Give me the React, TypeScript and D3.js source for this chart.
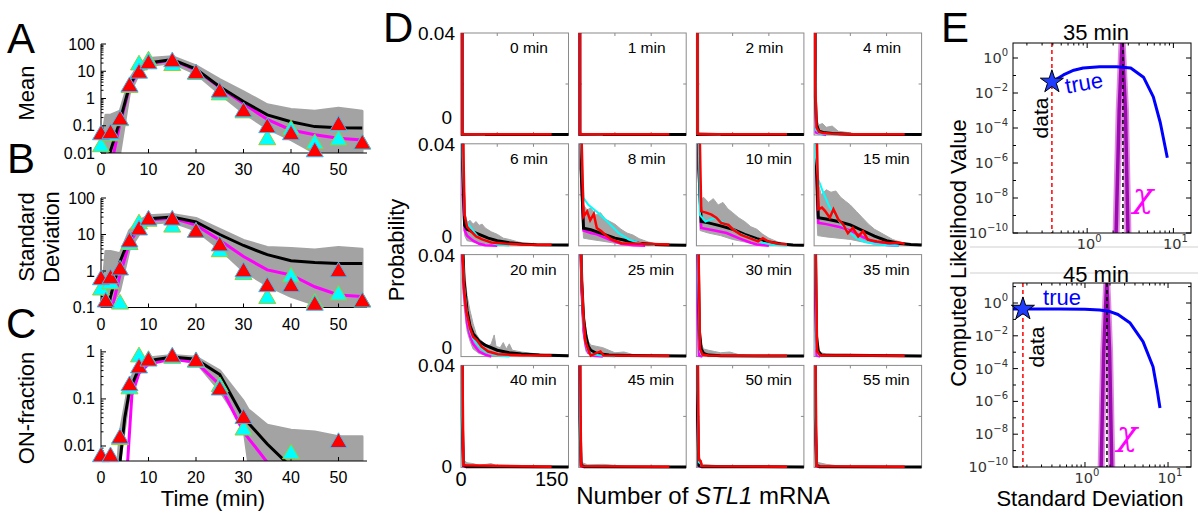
import React from "react";
import * as d3 from "d3";

type Pt = [number, number];
type V = number | null;

const FONT = "'Liberation Sans', Arial, Helvetica, sans-serif";

// ---------------- Panels A–C (time courses) ----------------
const times = [0, 1, 2, 4, 6, 8, 10, 15, 20, 25, 30, 35, 40, 45, 50, 55];
const timeTicks = [0, 10, 20, 30, 40, 50];

const meanRed: V[] = [0.055, null, 0.06, 0.19, 3.2, 10, 22, 26, 9.5, 2, 0.38, 0.1, 0.055, 0.013, 0.12, 0.025];
const meanCyan: V[] = [0.02, null, 0.05, 0.18, 3, 20, 28, 19, 9, 1.6, 0.35, 0.036, 0.083, 0.026, 0.035, 0.025];
const meanBlackT = [1.5, 2, 4, 6, 8, 10, 15, 20, 25, 30, 35, 40, 45, 50, 55];
const meanBlack = [0.005, 0.012, 0.15, 3, 12, 20, 27, 12, 2.7, 0.78, 0.25, 0.14, 0.093, 0.085, 0.083];
const meanMagT = [2.2, 4, 6, 8, 10, 15, 20, 25, 30, 35, 40, 45, 50, 55];
const meanMag = [0.004, 0.12, 2.5, 11, 19, 26, 11, 2.6, 0.65, 0.17, 0.07, 0.047, 0.035, 0.03];
const meanBandHi = [0.02, 0.25, 0.25, 0.35, 5, 18, 30, 35, 16, 5, 1.8, 0.6, 0.4, 0.35, 0.45, 0.35];
const meanBandLo = [0.01, 0.01, 0.01, 0.01, 1.5, 8, 16, 20, 8, 1.5, 0.3, 0.08, 0.03, 0.01, 0.01, 0.01];

const sdRed: V[] = [0.65, 0.16, 0.69, 1.2, 7, 15, 28, 28, 13, 5.5, 1.07, 0.42, 0.42, 0.13, 1.07, 0.16];
const sdCyan: V[] = [0.34, null, 0.5, 0.14, 6, 22, 26, 18, 13, 3.8, 0.9, 0.2, 0.78, 0.15, 0.25, 0.16];
const sdBlackT = [1.5, 2, 4, 6, 8, 10, 15, 20, 25, 30, 35, 40, 45, 50, 55];
const sdBlack = [0.09, 0.2, 1.8, 8, 18, 27, 30, 22, 10, 5, 2.8, 1.9, 1.7, 1.6, 1.6];
const sdMagT = [2.3, 4, 6, 8, 10, 15, 20, 25, 30, 35, 40, 45, 50, 55];
const sdMag = [0.09, 0.8, 6, 15, 25, 28, 18, 7, 2.5, 1.07, 0.78, 0.37, 0.22, 0.2];
const sdBandHi = [0.12, 3.5, 3.5, 3, 13, 24, 33, 36, 28, 14, 7, 4.5, 4.2, 3.8, 4.5, 4];
const sdBandLo = [0.1, 0.1, 0.1, 0.3, 4, 10, 20, 22, 13, 4, 1, 0.4, 0.2, 0.12, 0.1, 0.1];

const onRed: V[] = [0.0065, null, 0.0065, 0.016, 0.21, 0.5, 0.7, 0.85, 0.68, 0.17, 0.042, null, null, null, 0.013, null];
const onCyan: V[] = [null, null, null, 0.015, 0.18, 0.86, 0.72, 0.8, 0.66, 0.2, 0.024, null, 0.0075, null, null, null];
const onBlackT = [4, 5, 6, 8, 10, 15, 20, 25, 30, 35, 39];
const onBlack = [0.0045, 0.04, 0.15, 0.45, 0.65, 0.78, 0.7, 0.33, 0.04, 0.011, 0.0045];
const onMagT = [5.6, 6.5, 8, 10, 15, 20, 25, 30, 35];
const onMag = [0.0045, 0.12, 0.35, 0.55, 0.7, 0.6, 0.2, 0.02, 0.0045];
const onBandT = [3.5, 4, 6, 8, 10, 15, 20, 25, 30, 31, 35, 40, 45, 50, 55];
const onBandHi = [0.0048, 0.02, 0.25, 0.55, 0.75, 0.85, 0.78, 0.4, 0.09, 0.06, 0.028, 0.022, 0.02, 0.016, 0.016];
const onBandLo = [0.0047, 0.0047, 0.12, 0.4, 0.6, 0.7, 0.6, 0.15, 0.025, 0.0047, 0.0047, 0.0047, 0.0047, 0.0047, 0.0047];

// ---------------- Panel D (distributions) ----------------
const dLabels = times.map((t) => `${t} min`);
const dRed: Pt[][] = [
  [[0, 0.9], [2, 0.0003], [150, 0.0003]],
  [[0, 0.9], [2, 0.0003], [150, 0.0003]],
  [[0, 0.9], [2, 0.0005], [5, 0.0003], [150, 0.0003]],
  [[0, 0.9], [2, 0.02], [4, 0.003], [8, 0.0012], [15, 0.0008], [30, 0.0005], [60, 0.0003], [150, 0.0003]],
  [[0, 0.9], [3, 0.05], [6, 0.012], [10, 0.0075], [15, 0.006], [25, 0.0037], [35, 0.0025], [50, 0.0013], [75, 0.0008], [100, 0.0005], [150, 0.0004]],
  [[0, 0.9], [4, 0.05], [8, 0.0115], [11, 0.0125], [14, 0.0135], [19, 0.01], [25, 0.0125], [30, 0.007], [38, 0.0056], [47, 0.0037], [55, 0.0024], [71, 0.001], [104, 0.0008], [150, 0.0005]],
  [[0, 0.9], [5, 0.05], [8, 0.0135], [16, 0.013], [25, 0.0122], [33, 0.011], [41, 0.009], [53, 0.0082], [61, 0.0063], [74, 0.0043], [88, 0.003], [102, 0.0017], [110, 0.003], [119, 0.0017], [135, 0.0008], [150, 0.0005]],
  [[0, 0.9], [4, 0.05], [7, 0.0143], [13, 0.015], [18, 0.0137], [26, 0.011], [32, 0.0143], [40, 0.0104], [48, 0.0084], [56, 0.005], [64, 0.007], [73, 0.0037], [81, 0.0057], [89, 0.0024], [104, 0.0017], [125, 0.001], [140, 0.0013], [150, 0.0008]],
  [[0, 0.2], [2, 0.045], [5, 0.0268], [9, 0.0176], [15, 0.011], [20, 0.0078], [26, 0.0065], [34, 0.0039], [45, 0.002], [61, 0.0009], [100, 0.0005], [150, 0.0004]],
  [[0, 0.9], [3, 0.05], [5, 0.03], [8, 0.015], [11, 0.006], [17, 0.002], [20, 0.0004], [28, 0.0013], [36, 0.002], [41, 0.0004], [150, 0.0003]],
  [[0, 0.9], [3, 0.05], [6, 0.003], [10, 0.0008], [20, 0.0004], [150, 0.0003]],
  [[0, 0.9], [2, 0.05], [5, 0.002], [10, 0.0005], [150, 0.0003]],
  [[0, 0.9], [2, 0.05], [4, 0.0008], [150, 0.0003]],
  [[0, 0.9], [2, 0.05], [4, 0.0005], [150, 0.0003]],
  [[0, 0.9], [2, 0.05], [4, 0.003], [7, 0.0025], [9, 0.0005], [150, 0.0003]],
  [[0, 0.9], [2, 0.05], [4, 0.0005], [150, 0.0003]],
];
const dBlack: Pt[][] = [
  [[0, 0.9], [2, 0.0002], [178, 0.0002]],
  [[0, 0.9], [2, 0.0002], [178, 0.0002]],
  [[0, 0.9], [2, 0.0002], [178, 0.0002]],
  [[0, 0.9], [2, 0.015], [4, 0.004], [8, 0.0015], [15, 0.001], [30, 0.0006], [60, 0.0003], [178, 0.0002]],
  [[0, 0.9], [3, 0.03], [6, 0.008], [10, 0.0065], [20, 0.0055], [30, 0.0045], [45, 0.003], [60, 0.002], [80, 0.0012], [100, 0.0007], [125, 0.0004], [178, 0.0003]],
  [[0, 0.9], [4, 0.03], [8, 0.0069], [20, 0.0063], [40, 0.0047], [60, 0.003], [80, 0.002], [100, 0.001], [125, 0.0005], [150, 0.0003], [178, 0.0002]],
  [[0, 0.9], [4, 0.03], [8, 0.0095], [20, 0.009], [40, 0.0078], [60, 0.0065], [80, 0.0045], [100, 0.0028], [120, 0.0015], [140, 0.0007], [160, 0.0003], [178, 0.0002]],
  [[0, 0.9], [4, 0.03], [7, 0.011], [20, 0.0105], [40, 0.0095], [60, 0.0082], [80, 0.006], [100, 0.0038], [120, 0.002], [140, 0.001], [160, 0.0005], [178, 0.0003]],
  [[0, 0.2], [2, 0.05], [5, 0.03], [10, 0.018], [15, 0.012], [20, 0.009], [30, 0.006], [40, 0.0045], [60, 0.0025], [80, 0.0015], [100, 0.001], [130, 0.0006], [178, 0.0003]],
  [[0, 0.9], [3, 0.05], [5, 0.03], [8, 0.015], [12, 0.008], [16, 0.004], [20, 0.0025], [30, 0.0012], [50, 0.0006], [80, 0.0004], [178, 0.0002]],
  [[0, 0.9], [3, 0.04], [5, 0.01], [8, 0.003], [12, 0.0012], [20, 0.0006], [40, 0.0003], [178, 0.0002]],
  [[0, 0.9], [2, 0.05], [4, 0.008], [7, 0.002], [12, 0.0006], [178, 0.0002]],
  [[0, 0.9], [2, 0.02], [4, 0.0008], [10, 0.0003], [178, 0.0002]],
  [[0, 0.9], [2, 0.02], [4, 0.0008], [10, 0.0003], [178, 0.0002]],
  [[0, 0.9], [2, 0.02], [4, 0.0008], [10, 0.0003], [178, 0.0002]],
  [[0, 0.9], [2, 0.02], [4, 0.0008], [10, 0.0003], [178, 0.0002]],
];
const dCyan: Pt[][] = [
  [[0, 0.9], [2, 0.0003], [40, 0.0002]],
  [[0, 0.9], [2, 0.0003], [40, 0.0002]],
  [[0, 0.9], [2, 0.0004], [40, 0.0002]],
  [[0, 0.9], [2, 0.03], [3, 0.002], [10, 0.0005], [40, 0.0002]],
  [[0, 0.9], [3, 0.035], [6, 0.012], [10, 0.009], [20, 0.006], [30, 0.003], [45, 0.0015], [60, 0.0005], [80, 0.0001]],
  [[0, 0.9], [4, 0.04], [8, 0.0187], [16, 0.0161], [33, 0.0128], [50, 0.0089], [66, 0.005], [83, 0.0024], [104, 0.0008], [126, 0.0003]],
  [[0, 0.9], [4, 0.04], [6, 0.012], [15, 0.0095], [30, 0.011], [50, 0.0085], [70, 0.005], [90, 0.003], [110, 0.0012], [130, 0.0003], [150, 0]],
  [[0, 0.9], [3, 0.035], [7, 0.026], [15, 0.021], [25, 0.0155], [35, 0.012], [45, 0.0085], [55, 0.006], [70, 0.003], [85, 0.0015], [100, 0.0008], [120, 0.0002], [140, 0]],
  [[0, 0.2], [2, 0.045], [5, 0.028], [10, 0.016], [15, 0.01], [20, 0.007], [30, 0.004], [40, 0.002], [60, 0.0005], [80, 0]],
  [[0, 0.9], [3, 0.05], [5, 0.028], [8, 0.012], [12, 0.005], [16, 0.002], [25, 0.0008], [40, 0.0003], [60, 0]],
  [[0, 0.9], [3, 0.03], [6, 0.002], [10, 0.0004]],
  [[0, 0.9], [2, 0.04], [4, 0.003], [8, 0.0003]],
  [[0, 0.9], [2, 0.02], [4, 0.0005]],
  [[0, 0.9], [2, 0.02], [4, 0.0005]],
  [[0, 0.9], [2, 0.03], [4, 0.002], [7, 0.0015], [9, 0.0002]],
  [[0, 0.9], [2, 0.02], [4, 0.0005]],
];
const dMagenta: Pt[][] = [
  [[0, 0.9], [2, 0.0002], [20, 0.0001]],
  [[0, 0.9], [2, 0.0002], [20, 0.0001]],
  [[0, 0.9], [2, 0.0002], [20, 0.0001]],
  [[0, 0.9], [2, 0.02], [3, 0.001], [20, 0]],
  [[0, 0.9], [3, 0.02], [6, 0.006], [10, 0.004], [20, 0.002], [30, 0.0008], [40, 0.0002], [60, 0]],
  [[0, 0.9], [4, 0.03], [8, 0.006], [20, 0.005], [30, 0.0045], [50, 0.0025], [70, 0.0008], [90, 0.0002], [110, 0]],
  [[0, 0.9], [4, 0.03], [8, 0.007], [30, 0.006], [50, 0.005], [70, 0.003], [90, 0.0012], [100, 0.0005], [120, 0]],
  [[0, 0.9], [4, 0.03], [7, 0.009], [20, 0.0085], [40, 0.0075], [60, 0.006], [80, 0.0035], [100, 0.0015], [120, 0.0003], [140, 0]],
  [[0, 0.2], [2, 0.04], [5, 0.025], [10, 0.013], [15, 0.008], [20, 0.005], [30, 0.002], [40, 0.0008], [50, 0]],
  [[0, 0.9], [3, 0.045], [5, 0.025], [8, 0.01], [12, 0.004], [16, 0.0015], [25, 0.0003], [40, 0]],
  [[0, 0.9], [2, 0.02], [4, 0.0005], [10, 0]],
  [[0, 0.9], [2, 0.02], [4, 0.0005], [10, 0]],
  [[0, 0.9], [2, 0.02], [4, 0.0005], [10, 0]],
  [[0, 0.9], [2, 0.02], [4, 0.0005], [10, 0]],
  [[0, 0.9], [2, 0.02], [4, 0.0005], [10, 0]],
  [[0, 0.9], [2, 0.02], [4, 0.0005], [10, 0]],
];
const dGreyHi: Pt[][] = [
  [[0, 0.9], [2, 0.001], [10, 0.0003]],
  [[0, 0.9], [2, 0.001], [10, 0.0003]],
  [[0, 0.9], [2, 0.001], [20, 0.0008], [35, 0.0006], [50, 0.0002]],
  [[0, 0.9], [2, 0.04], [4, 0.006], [8, 0.004], [14, 0.0045], [20, 0.003], [30, 0.0035], [40, 0.0015], [55, 0.001], [70, 0.0004], [90, 0.0001]],
  [[0, 0.9], [3, 0.04], [6, 0.014], [10, 0.009], [15, 0.01], [20, 0.0085], [25, 0.0095], [30, 0.008], [35, 0.0085], [40, 0.007], [50, 0.0055], [60, 0.0045], [70, 0.003], [80, 0.0025], [95, 0.0015], [110, 0.0008], [130, 0.0003]],
  [[0, 0.9], [4, 0.04], [8, 0.016], [14, 0.014], [20, 0.015], [28, 0.012], [36, 0.013], [44, 0.0105], [52, 0.0095], [60, 0.0085], [70, 0.0065], [80, 0.005], [90, 0.0042], [100, 0.0028], [115, 0.0015], [130, 0.0008], [150, 0.0003]],
  [[0, 0.9], [4, 0.04], [6, 0.018], [12, 0.019], [20, 0.017], [28, 0.0185], [36, 0.016], [44, 0.017], [52, 0.0145], [60, 0.013], [70, 0.011], [80, 0.0095], [90, 0.0075], [100, 0.0065], [110, 0.0045], [120, 0.003], [135, 0.0015], [150, 0.0008], [165, 0.0003]],
  [[0, 0.9], [3, 0.04], [6, 0.025], [12, 0.02], [20, 0.022], [28, 0.021], [36, 0.0215], [44, 0.019], [52, 0.0175], [60, 0.016], [70, 0.0135], [80, 0.011], [90, 0.0085], [100, 0.0065], [115, 0.0045], [130, 0.0025], [145, 0.0013], [160, 0.0006], [178, 0.0003]],
  [[0, 0.9], [2, 0.045], [5, 0.035], [10, 0.024], [15, 0.018], [20, 0.013], [25, 0.009], [30, 0.007], [35, 0.006], [40, 0.0045], [45, 0.004], [50, 0.005], [55, 0.0085], [58, 0.004], [65, 0.0035], [70, 0.0055], [75, 0.003], [80, 0.005], [85, 0.0025], [100, 0.0018], [120, 0.0012], [140, 0.0008], [160, 0.0004]],
  [[0, 0.9], [3, 0.045], [5, 0.035], [8, 0.02], [12, 0.01], [16, 0.006], [20, 0.0045], [30, 0.004], [40, 0.0035], [50, 0.0025], [60, 0.0015], [75, 0.0018], [90, 0.0008], [110, 0.0005], [130, 0.0002]],
  [[0, 0.9], [3, 0.04], [5, 0.012], [8, 0.005], [12, 0.003], [20, 0.0025], [30, 0.002], [40, 0.0015], [55, 0.0018], [70, 0.0008], [90, 0.0005], [110, 0.0002]],
  [[0, 0.9], [2, 0.04], [4, 0.01], [7, 0.003], [12, 0.0015], [20, 0.001], [35, 0.0008], [50, 0.0004], [70, 0.0002]],
  [[0, 0.9], [2, 0.04], [4, 0.003], [10, 0.0018], [20, 0.0015], [30, 0.0008], [50, 0.0015], [60, 0.0006], [80, 0.0003]],
  [[0, 0.9], [2, 0.04], [4, 0.002], [15, 0.001], [40, 0.0012], [60, 0.0008], [80, 0.0003]],
  [[0, 0.9], [2, 0.04], [5, 0.004], [10, 0.0012], [30, 0.0008], [60, 0.0004]],
  [[0, 0.9], [2, 0.04], [5, 0.002], [20, 0.0012], [40, 0.0006], [60, 0.0003]],
];
const dGreyLo: Pt[][] = [
  [[0, 0.9], [2, 0.0001], [10, 0.0001]],
  [[0, 0.9], [2, 0.0001], [10, 0.0001]],
  [[0, 0.9], [2, 0.0001], [50, 0.0001]],
  [[0, 0.9], [2, 0.01], [4, 0.001], [10, 0.0003], [90, 0.0001]],
  [[0, 0.9], [3, 0.02], [6, 0.004], [10, 0.002], [20, 0.0015], [40, 0.0008], [60, 0.0004], [130, 0.0002]],
  [[0, 0.9], [4, 0.02], [8, 0.003], [20, 0.0025], [40, 0.0018], [60, 0.001], [80, 0.0006], [100, 0.0003], [150, 0.0001]],
  [[0, 0.9], [4, 0.02], [6, 0.006], [20, 0.005], [40, 0.004], [60, 0.0025], [80, 0.0015], [100, 0.0006], [120, 0.0002], [165, 0.0001]],
  [[0, 0.9], [3, 0.02], [6, 0.004], [20, 0.0035], [40, 0.003], [60, 0.0025], [80, 0.0015], [100, 0.0006], [120, 0.0002], [178, 0.0001]],
  [[0, 0.9], [2, 0.03], [5, 0.02], [10, 0.01], [15, 0.006], [20, 0.003], [30, 0.0012], [40, 0.0006], [60, 0.0002], [160, 0.0001]],
  [[0, 0.9], [3, 0.03], [5, 0.02], [8, 0.008], [12, 0.002], [20, 0.0005], [40, 0.0002], [130, 0.0001]],
  [[0, 0.9], [3, 0.02], [6, 0.001], [12, 0.0002], [110, 0.0001]],
  [[0, 0.9], [2, 0.02], [5, 0.0005], [70, 0.0001]],
  [[0, 0.9], [2, 0.02], [4, 0.0003], [80, 0.0001]],
  [[0, 0.9], [2, 0.02], [4, 0.0003], [80, 0.0001]],
  [[0, 0.9], [2, 0.02], [4, 0.0003], [60, 0.0001]],
  [[0, 0.9], [2, 0.02], [4, 0.0003], [60, 0.0001]],
];
const dXTicks = [60, 120];
const dXLabels = [0, 150];

// ---------------- Panel E (likelihoods) ----------------
const eTopBlue: Pt[] = [[0.39, 0.043], [0.53, 0.107], [0.7, 0.2], [0.9, 0.27], [1.4, 0.32], [2.2, 0.32], [3.2, 0.27], [4.5, 0.08], [5.85, 0.006], [7.05, 2e-4], [8.5, 2e-6]];
const eTopStar: Pt = [0.39, 0.043];
const eTopDataSD = 0.39;
const eTopTrueSD = 2.6;
const eTopChi: Pt[] = [[2.14, 1e-11], [2.35, 1e-3], [2.49, 1], [2.54, 10], [2.6, 1], [2.78, 1e-3], [3.0, 1e-11]];
const eBotBlue: Pt[] = [[0.136, 0.43], [0.5, 0.43], [1.0, 0.41], [1.5, 0.37], [2.0, 0.3], [2.5, 0.2], [3.5, 0.06], [5.0, 0.0044], [6.6, 1.3e-4], [7.4, 5e-6], [8.0, 4e-7]];
const eBotStar: Pt = [0.179, 0.43];
const eBotDataSD = 0.179;
const eBotTrueSD = 1.84;
const eBotChi: Pt[] = [[1.55, 1e-11], [1.68, 1e-3], [1.78, 1], [1.83, 20], [1.88, 1], [1.98, 1e-3], [2.12, 1e-11]];
const eYTickExp = [0, -2, -4, -6, -8, -10];
const eXTickExp = [0, 1];

// ---------------- helpers ----------------
function logMinor(d0: number, d1: number): number[] {
  const out: number[] = [];
  for (let e = Math.floor(Math.log10(d0)); e <= Math.ceil(Math.log10(d1)); e++) {
    for (let m = 1; m <= 9; m++) {
      const v = m * Math.pow(10, e);
      if (v >= d0 * 0.999 && v <= d1 * 1.001) out.push(v);
    }
  }
  return out;
}

function TimePanel(p: {
  id: string;
  yDomain: [number, number];
  yRange: [number, number];
  yTicks: number[];
  yTickText: string[];
  bandT: number[];
  bandHi: number[];
  bandLo: number[];
  blackT: number[];
  black: number[];
  magT: number[];
  mag: number[];
  red: V[];
  cyan: V[];
}) {
  const x = d3.scaleLinear().domain([0, 56]).range([101, 367]);
  const y = d3.scaleLog().domain(p.yDomain).range(p.yRange);
  const [yb, yt] = p.yRange;
  const line = d3.line<Pt>().x((d) => x(d[0])).y((d) => y(d[1]));
  const band: Pt[] = [
    ...p.bandT.map((t, i) => [t, p.bandHi[i]] as Pt),
    ...p.bandT.map((t, i) => [t, p.bandLo[i]] as Pt).reverse(),
  ];
  const tri = d3.symbol(d3.symbolTriangle, 125)() as string;
  const minor = logMinor(p.yDomain[0], p.yDomain[1]);
  const isMajor = (v: number) => Math.abs(Math.log10(v) - Math.round(Math.log10(v))) < 1e-6;
  return (
    <g>
      <defs>
        <clipPath id={p.id}>
          <rect x={101} y={yt - 4} width={268} height={yb - yt + 4} />
        </clipPath>
      </defs>
      <g clipPath={`url(#${p.id})`}>
        <path d={line(band) || ""} fill="#a3a3a3" stroke="#a3a3a3" strokeWidth={2.5} strokeLinejoin="round" />
        <path d={line(p.magT.map((t, i) => [t, p.mag[i]] as Pt)) || ""} fill="none" stroke="#ff00ff" strokeWidth={3} />
        <path d={line(p.blackT.map((t, i) => [t, p.black[i]] as Pt)) || ""} fill="none" stroke="#000" strokeWidth={3} />
      </g>
      <line x1={101} x2={101} y1={yt} y2={yb} stroke="#000" strokeWidth={1} />
      <line x1={101} x2={367} y1={yb} y2={yb} stroke="#000" strokeWidth={1} />
      {minor.map((v, i) => (
        <line key={"m" + i} x1={101} x2={101 + (isMajor(v) ? 5 : 2.5)} y1={y(v)} y2={y(v)} stroke="#000" strokeWidth={1} />
      ))}
      {timeTicks.map((t) => (
        <line key={"xt" + t} x1={x(t)} x2={x(t)} y1={yb} y2={yb - 4} stroke="#000" strokeWidth={1} />
      ))}
      {p.yTicks.map((v, i) => (
        <text key={"yl" + i} x={95} y={y(v) + 5.5} textAnchor="end" fontSize={16} fontFamily={FONT}>
          {p.yTickText[i]}
        </text>
      ))}
      {timeTicks.map((t) => (
        <text key={"xl" + t} x={x(t)} y={yb + 22} textAnchor="middle" fontSize={16} fontFamily={FONT}>
          {t}
        </text>
      ))}
      {times.map((t, i) =>
        p.cyan[i] == null ? null : (
          <path key={"c" + i} d={tri} transform={`translate(${x(t)},${y(p.cyan[i] as number) + 2})`} fill="#00ffff" stroke="#9acd32" strokeWidth={1} />
        )
      )}
      {times.map((t, i) =>
        p.red[i] == null ? null : (
          <path key={"r" + i} d={tri} transform={`translate(${x(t)},${y(p.red[i] as number) + 2})`} fill="#ff0000" stroke="#3fb8f0" strokeWidth={1} />
        )
      )}
    </g>
  );
}

function DistPanel({ i }: { i: number }) {
  const col = i % 4;
  const row = Math.floor(i / 4);
  const x0 = 461 + col * 117.7;
  const y0 = 33 + row * 110.8;
  const w = 107.5;
  const h = 102;
  const x = d3.scaleLinear().domain([0, 178]).range([x0, x0 + w]);
  const y = d3.scaleLinear().domain([0, 0.04]).range([y0 + h, y0]);
  const line = d3.line<Pt>().x((d) => x(d[0])).y((d) => y(d[1]));
  const band: Pt[] = [...dGreyHi[i], ...[...dGreyLo[i]].reverse()];
  const id = `dclip${i}`;
  const zeroOff = [18, 10, 10, 1];
  return (
    <g>
      <defs>
        <clipPath id={id}>
          <rect x={x0 - 0.5} y={y0} width={w + 1} height={h + 1.5} />
        </clipPath>
      </defs>
      <rect x={x0} y={y0} width={w} height={h} fill="#fff" stroke="#8a8a8a" strokeWidth={1} />
      {dXTicks.map((v) => (
        <g key={v}>
          <line x1={x(v)} x2={x(v)} y1={y0} y2={y0 + 3} stroke="#8a8a8a" />
          <line x1={x(v)} x2={x(v)} y1={y0 + h} y2={y0 + h - 3} stroke="#8a8a8a" />
        </g>
      ))}
      <line x1={x0} x2={x0 + 3} y1={y(0.02)} y2={y(0.02)} stroke="#8a8a8a" />
      <line x1={x0 + w} x2={x0 + w - 3} y1={y(0.02)} y2={y(0.02)} stroke="#8a8a8a" />
      <g clipPath={`url(#${id})`}>
        <path d={line(band) || ""} fill="#a6a6a6" stroke="#a6a6a6" strokeWidth={1} strokeLinejoin="round" />
        <path d={line(dMagenta[i]) || ""} fill="none" stroke="#ff00ff" strokeWidth={2.5} />
        <path d={line(dBlack[i]) || ""} fill="none" stroke="#000" strokeWidth={3} />
        <path d={line(dCyan[i]) || ""} fill="none" stroke="#00ffff" strokeWidth={2} />
        <path d={line(dRed[i]) || ""} fill="none" stroke="#ff0000" strokeWidth={2.5} />
      </g>
      <text x={x0 + 49} y={y0 + 20} fontSize={15.5} fontFamily={FONT}>
        {dLabels[i]}
      </text>
      {col === 0 && (
        <>
          <text x={455} y={y(0.04) + 7} textAnchor="end" fontSize={19} fontFamily={FONT}>
            0.04
          </text>
          <text x={452} y={y(0) + 7 - zeroOff[row]} textAnchor="end" fontSize={19} fontFamily={FONT}>
            0
          </text>
        </>
      )}
      {col === 0 && row === 3 && (
        <>
          <text x={x(dXLabels[0])} y={y0 + h + 19} textAnchor="middle" fontSize={20} fontFamily={FONT}>
            {dXLabels[0]}
          </text>
          <text x={x(dXLabels[1])} y={y0 + h + 19} textAnchor="middle" fontSize={20} fontFamily={FONT}>
            {dXLabels[1]}
          </text>
        </>
      )}
    </g>
  );
}

function Pow({ x, y, e, anchor }: { x: number; y: number; e: number; anchor: string }) {
  return (
    <text x={x} y={y} textAnchor={anchor as any} fontFamily="'DejaVu Sans', sans-serif" fontSize={14.5} fill="#333">
      10
      <tspan dy={-7} fontSize={10}>
        {e < 0 ? "\u2212" + Math.abs(e) : String(e)}
      </tspan>
    </text>
  );
}

function LikPanel(p: {
  id: string;
  top: number;
  bottom: number;
  xDomain: [number, number];
  yDomain: [number, number];
  blue: Pt[];
  star: Pt;
  dataSD: number;
  trueSD: number;
  chi: Pt[];
  title: string;
  titleY: number;
  trueXY: [number, number, number];
  dataXY: [number, number];
  chiXY: [number, number];
}) {
  const x0 = 1013;
  const x1 = 1191;
  const x = d3.scaleLog().domain(p.xDomain).range([x0, x1]);
  const y = d3.scaleLog().domain(p.yDomain).range([p.bottom, p.top]);
  const line = d3.line<Pt>().x((d) => x(d[0])).y((d) => y(d[1]));
  const star = d3.symbol(d3.symbolStar, 165)() as string;
  const xMinor = logMinor(p.xDomain[0], p.xDomain[1]);
  const isMajor = (v: number) => Math.abs(Math.log10(v) - Math.round(Math.log10(v))) < 1e-6;
  return (
    <g>
      <defs>
        <clipPath id={p.id}>
          <rect x={x0} y={p.top} width={x1 - x0} height={p.bottom - p.top} />
        </clipPath>
      </defs>
      <rect x={x0} y={p.top} width={x1 - x0} height={p.bottom - p.top} fill="#fff" />
      <g clipPath={`url(#${p.id})`}>
        <line x1={x(p.dataSD)} x2={x(p.dataSD)} y1={p.top} y2={p.bottom} stroke="#ff0000" strokeWidth={1.5} strokeDasharray="4,3" />
        <path d={line(p.chi) || ""} fill="none" stroke="#d25ad2" strokeOpacity={0.7} strokeWidth={7} strokeLinejoin="round" />
        <path d={line(p.chi) || ""} fill="none" stroke="#9a0aae" strokeWidth={3.5} strokeLinejoin="round" />
        <line x1={x(p.trueSD)} x2={x(p.trueSD)} y1={p.top} y2={p.bottom} stroke="#000" strokeWidth={1.5} strokeDasharray="4,3" />
        <path d={line(p.blue) || ""} fill="none" stroke="#0000ff" strokeWidth={3} strokeLinejoin="round" />
      </g>
      <path d={star} transform={`translate(${x(p.star[0])},${y(p.star[1])})`} fill="#1f3cff" stroke="#000" strokeWidth={1} />
      <rect x={x0} y={p.top} width={x1 - x0} height={p.bottom - p.top} fill="none" stroke="#000" strokeWidth={1} />
      {d3.range(-10, 2).map((e) => {
        const v = Math.pow(10, e);
        if (v > p.yDomain[1]) return null;
        const len = e % 2 === 0 ? 5 : 3;
        return (
          <g key={"yt" + e}>
            <line x1={x0} x2={x0 + len} y1={y(v)} y2={y(v)} stroke="#000" />
            <line x1={x1} x2={x1 - len} y1={y(v)} y2={y(v)} stroke="#000" />
          </g>
        );
      })}
      {xMinor.map((v, i) => {
        const len = isMajor(v) ? 5 : 2.5;
        return (
          <g key={"xt" + i}>
            <line x1={x(v)} x2={x(v)} y1={p.bottom} y2={p.bottom - len} stroke="#000" />
            <line x1={x(v)} x2={x(v)} y1={p.top} y2={p.top + len} stroke="#000" />
          </g>
        );
      })}
      {eYTickExp.map((e) => (
        <Pow key={"yl" + e} x={1008} y={y(Math.pow(10, e)) + 5} e={e} anchor="end" />
      ))}
      {eXTickExp.map((e) => (
        <Pow key={"xl" + e} x={x(Math.pow(10, e)) + 2} y={p.bottom + 16} e={e} anchor="middle" />
      ))}
      <text x={1096} y={p.titleY} textAnchor="middle" fontSize={22} fontFamily={FONT}>
        {p.title}
      </text>
      <text
        x={p.trueXY[0]}
        y={p.trueXY[1]}
        textAnchor="middle"
        dominantBaseline="central"
        fontSize={22}
        fontFamily={FONT}
        fill="#0000ff"
        transform={`rotate(${p.trueXY[2]},${p.trueXY[0]},${p.trueXY[1]})`}
      >
        true
      </text>
      <text
        x={p.dataXY[0]}
        y={p.dataXY[1]}
        textAnchor="middle"
        dominantBaseline="central"
        fontSize={21}
        fontFamily={FONT}
        transform={`rotate(-90,${p.dataXY[0]},${p.dataXY[1]})`}
      >
        data
      </text>
      <text x={p.chiXY[0]} y={p.chiXY[1]} textAnchor="middle" dominantBaseline="central" fontSize={34} fontStyle="italic" fontFamily="'DejaVu Serif', 'Liberation Serif', serif" fill="#ff00ff">
        χ
      </text>
    </g>
  );
}

export default function App() {
  return (
    <svg width={1198} height={512} style={{ position: "absolute", left: 0, top: 0, background: "#fff" }} fontFamily={FONT}>
      <rect x={0} y={0} width={1198} height={512} fill="#fff" />
      <text x={7} y={53} fontSize={42} fontFamily={FONT}>A</text>
      <text x={7} y={173} fontSize={42} fontFamily={FONT}>B</text>
      <text x={6} y={338} fontSize={42} fontFamily={FONT}>C</text>
      <text x={383} y={42} fontSize={42} fontFamily={FONT}>D</text>
      <text x={941} y={42} fontSize={42} fontFamily={FONT}>E</text>

      <text transform="translate(34,93) rotate(-90)" textAnchor="middle" fontSize={22} fontFamily={FONT}>Mean</text>
      <text transform="translate(34,237) rotate(-90)" textAnchor="middle" fontSize={22} fontFamily={FONT}>Standard</text>
      <text transform="translate(59,237) rotate(-90)" textAnchor="middle" fontSize={22} fontFamily={FONT}>Deviation</text>
      <text transform="translate(34,408) rotate(-90)" textAnchor="middle" fontSize={22} fontFamily={FONT}>ON-fraction</text>
      <text x={213} y={506} textAnchor="middle" fontSize={22} fontFamily={FONT}>Time (min)</text>

      <TimePanel
        id="clipA"
        yDomain={[0.01, 100]}
        yRange={[153, 44]}
        yTicks={[100, 10, 1, 0.1, 0.01]}
        yTickText={["100", "10", "1", "0.1", "0.01"]}
        bandT={times}
        bandHi={meanBandHi}
        bandLo={meanBandLo}
        blackT={meanBlackT}
        black={meanBlack}
        magT={meanMagT}
        mag={meanMag}
        red={meanRed}
        cyan={meanCyan}
      />
      <TimePanel
        id="clipB"
        yDomain={[0.1, 100]}
        yRange={[307.5, 198]}
        yTicks={[100, 10, 1, 0.1]}
        yTickText={["100", "10", "1", "0.1"]}
        bandT={times}
        bandHi={sdBandHi}
        bandLo={sdBandLo}
        blackT={sdBlackT}
        black={sdBlack}
        magT={sdMagT}
        mag={sdMag}
        red={sdRed}
        cyan={sdCyan}
      />
      <TimePanel
        id="clipC"
        yDomain={[0.0048, 1.15]}
        yRange={[461, 349]}
        yTicks={[1, 0.1, 0.01]}
        yTickText={["1", "0.1", "0.01"]}
        bandT={onBandT}
        bandHi={onBandHi}
        bandLo={onBandLo}
        blackT={onBlackT}
        black={onBlack}
        magT={onMagT}
        mag={onMag}
        red={onRed}
        cyan={onCyan}
      />

      {dLabels.map((_, i) => (
        <DistPanel key={i} i={i} />
      ))}
      <text transform="translate(404,250) rotate(-90)" textAnchor="middle" fontSize={22} fontFamily={FONT}>Probability</text>
      <text x={703} y={504} textAnchor="middle" fontSize={24} fontFamily={FONT}>
        Number of <tspan fontStyle="italic">STL1</tspan> mRNA
      </text>

      <line x1={970} x2={1198} y1={247} y2={247} stroke="#cfcfcf" strokeWidth={1} />
      <line x1={970} x2={1198} y1={273} y2={273} stroke="#cfcfcf" strokeWidth={1} />
      <LikPanel
        id="clipE1"
        top={43}
        bottom={233}
        xDomain={[0.138, 16]}
        yDomain={[1e-10, 7.2]}
        blue={eTopBlue}
        star={eTopStar}
        dataSD={eTopDataSD}
        trueSD={eTopTrueSD}
        chi={eTopChi}
        title="35 min"
        titleY={40}
        trueXY={[1084, 83, -10]}
        dataXY={[1040, 118]}
        chiXY={[1143, 195]}
      />
      <LikPanel
        id="clipE2"
        top={283}
        bottom={467}
        xDomain={[0.136, 18.9]}
        yDomain={[1e-10, 16.6]}
        blue={eBotBlue}
        star={eBotStar}
        dataSD={eBotDataSD}
        trueSD={eBotTrueSD}
        chi={eBotChi}
        title="45 min"
        titleY={282}
        trueXY={[1062, 297, 0]}
        dataXY={[1036, 347]}
        chiXY={[1127, 433]}
      />
      <text transform="translate(958,253) rotate(-90)" textAnchor="middle" dominantBaseline="central" fontSize={22} fontFamily={FONT}>
        Computed Likelihood Value
      </text>
      <text x={1090} y={506} textAnchor="middle" fontSize={22} fontFamily={FONT}>
        Standard Deviation
      </text>
    </svg>
  );
}
